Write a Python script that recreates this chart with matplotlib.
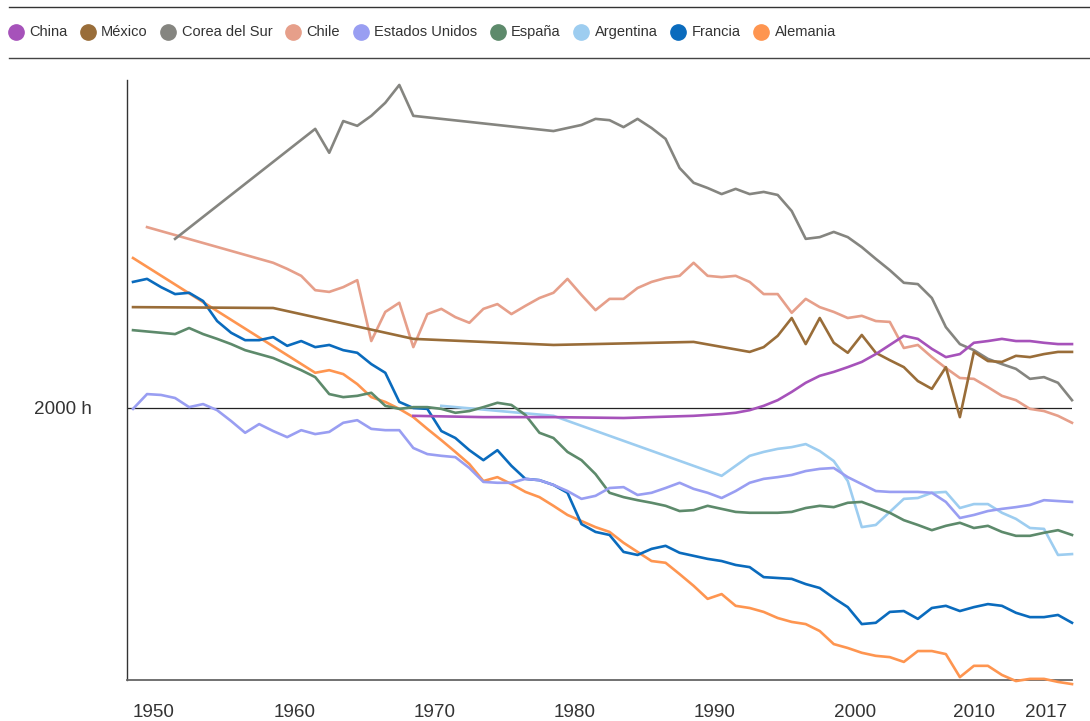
import matplotlib.pyplot as plt
from matplotlib.lines import Line2D
from matplotlib.transforms import ScaledTranslation

plt.rcParams['font.family'] = ['Liberation Sans', 'DejaVu Sans']

# annual working hours per worker
china_years = [1970, 1975, 1980, 1985, 1990, 1991, 1992, 1993, 1994, 1995, 1996, 1997, 1998, 1999,
               2000, 2001, 2002, 2003, 2004, 2005, 2006, 2007, 2008, 2009, 2010, 2011, 2012, 2013,
               2014, 2015, 2016, 2017]
china_hours = [1982, 1979, 1979, 1977, 1982, 1984, 1986, 1989, 1995, 2005, 2018, 2037, 2058, 2074,
               2083, 2094, 2106, 2124, 2145, 2166, 2159, 2136, 2117, 2124, 2150, 2154, 2159, 2154,
               2154, 2150, 2147, 2147]

mexico_years = [1950, 1960, 1970, 1980, 1990, 1994, 1995, 1996, 1997, 1998, 1999, 2000, 2001, 2002,
                2003, 2004, 2005, 2006, 2007, 2008, 2009, 2010, 2011, 2012, 2013, 2014, 2015, 2016,
                2017]
mexico_hours = [2232, 2230, 2159, 2145, 2152, 2129, 2140, 2166, 2207, 2147, 2207, 2150, 2127, 2168,
                2127, 2110, 2094, 2062, 2044, 2094, 1979, 2129, 2108, 2106, 2120, 2117, 2124, 2129,
                2129]

korea_years = [1953, 1963, 1964, 1965, 1966, 1967, 1968, 1969, 1970, 1980, 1981, 1982, 1983, 1984,
               1985, 1986, 1987, 1988, 1989, 1990, 1991, 1992, 1993, 1994, 1995, 1996, 1997, 1998,
               1999, 2000, 2001, 2002, 2003, 2004, 2005, 2006, 2007, 2008, 2009, 2010, 2011, 2012,
               2013, 2014, 2015, 2016, 2017]
korea_hours = [2389, 2642, 2587, 2660, 2649, 2672, 2702, 2743, 2672, 2637, 2644, 2651, 2665, 2662,
               2646, 2665, 2644, 2619, 2552, 2518, 2506, 2492, 2504, 2492, 2497, 2490, 2453, 2389,
               2393, 2405, 2393, 2370, 2343, 2317, 2288, 2285, 2253, 2186, 2147, 2133, 2113, 2101,
               2090, 2067, 2071, 2058, 2018]

chile_years = [1951, 1960, 1961, 1962, 1963, 1964, 1965, 1966, 1967, 1968, 1969, 1970, 1971, 1972,
               1973, 1974, 1975, 1976, 1977, 1978, 1979, 1980, 1981, 1982, 1983, 1984, 1985, 1986,
               1987, 1988, 1989, 1990, 1991, 1992, 1993, 1994, 1995, 1996, 1997, 1998, 1999, 2000,
               2001, 2002, 2003, 2004, 2005, 2006, 2007, 2008, 2009, 2010, 2011, 2012, 2013, 2014,
               2015, 2016, 2017]
chile_hours = [2416, 2334, 2320, 2304, 2271, 2267, 2278, 2294, 2154, 2221, 2242, 2140, 2216, 2228,
               2209, 2196, 2228, 2239, 2216, 2235, 2253, 2265, 2297, 2260, 2225, 2251, 2251, 2276,
               2290, 2299, 2304, 2334, 2304, 2301, 2304, 2290, 2262, 2262, 2219, 2251, 2232, 2221,
               2207, 2212, 2200, 2198, 2138, 2145, 2117, 2092, 2069, 2067, 2048, 2028, 2018, 1998,
               1993, 1982, 1966]

us_years = list(range(1950, 2018))
us_hours = [1998, 2032, 2030, 2023, 2002, 2009, 1995, 1970, 1943, 1963,
            1947, 1933, 1949, 1940, 1945, 1966, 1972, 1952, 1949, 1949,
            1908, 1894, 1890, 1887, 1862, 1830, 1828, 1828, 1837, 1834,
            1823, 1809, 1791, 1798, 1816, 1818, 1800, 1805, 1816, 1828,
            1814, 1805, 1793, 1809, 1828, 1837, 1841, 1846, 1855, 1860,
            1862, 1841, 1825, 1809, 1807, 1807, 1807, 1805, 1784, 1747,
            1754, 1763, 1768, 1772, 1777, 1788, 1786, 1784]

spain_years = [1950] + list(range(1953, 2018))
spain_hours = [2179, 2170, 2184, 2170, 2159, 2147, 2133, 2124,
               2115, 2101, 2087, 2071, 2032, 2025, 2028, 2035, 2005, 1998,
               2002, 2002, 1998, 1989, 1993, 2002, 2012, 2007, 1984, 1943,
               1931, 1899, 1880, 1848, 1805, 1795, 1788, 1782, 1775, 1763,
               1765, 1775, 1768, 1761, 1759, 1759, 1759, 1761, 1770, 1775,
               1772, 1782, 1784, 1772, 1759, 1742, 1731, 1719, 1729, 1736,
               1724, 1729, 1715, 1706, 1706, 1713, 1719, 1708]

argentina_years = [1972, 1980, 1992, 1993, 1994, 1995, 1996, 1997, 1998, 1999, 2000, 2001, 2002,
                   2003, 2004, 2005, 2006, 2007, 2008, 2009, 2010, 2011, 2012, 2013, 2014, 2015,
                   2016, 2017]
argentina_hours = [2005, 1982, 1844, 1867, 1890, 1899, 1906, 1910, 1917, 1901, 1878, 1832, 1726,
                   1731, 1761, 1791, 1793, 1805, 1807, 1770, 1779, 1779, 1759, 1745, 1724, 1722,
                   1662, 1664]

france_years = list(range(1950, 2018))
france_hours = [2290, 2297, 2278, 2262, 2265, 2246, 2200, 2173, 2156, 2156,
                2163, 2143, 2154, 2140, 2145, 2133, 2127, 2101, 2081, 2014,
                2000, 1998, 1947, 1931, 1903, 1880, 1903, 1867, 1837, 1834,
                1823, 1805, 1733, 1715, 1708, 1669, 1662, 1676, 1683, 1667,
                1660, 1653, 1648, 1639, 1634, 1611, 1609, 1607, 1595, 1586,
                1563, 1542, 1503, 1506, 1531, 1533, 1515, 1540, 1545, 1533,
                1542, 1549, 1545, 1529, 1519, 1519, 1524, 1506]

germany_years = [1950] + list(range(1963, 2018))
germany_hours = [2345, 2081, 2087, 2078, 2055, 2025, 2014, 1998,
                 1979, 1952, 1926, 1899, 1871, 1832, 1841, 1825, 1807, 1795,
                 1775, 1754, 1740, 1726, 1715, 1690, 1669, 1648, 1644, 1618,
                 1591, 1561, 1572, 1545, 1540, 1531, 1517, 1508, 1503, 1487,
                 1457, 1448, 1437, 1430, 1427, 1416, 1441, 1441, 1434, 1381,
                 1407, 1407, 1386, 1372, 1377, 1377, 1370, 1365]

names = ["China", "México", "Corea del Sur", "Chile", "Estados Unidos", "España",
         "Argentina", "Francia", "Alemania"]
colors = ["#a652ba", "#996d39", "#858580", "#e69f8a", "#999ef2", "#5d8a6b",
          "#9dcdf0", "#0a6bbd", "#fe9550"]
series = [(china_years, china_hours), (mexico_years, mexico_hours), (korea_years, korea_hours),
          (chile_years, chile_hours), (us_years, us_hours), (spain_years, spain_hours),
          (argentina_years, argentina_hours), (france_years, france_hours),
          (germany_years, germany_hours)]

tick_years = [1950, 1960, 1970, 1980, 1990, 2000, 2010, 2017]

W, H = 1090, 721
fig = plt.figure(figsize=(W / 100, H / 100), dpi=100)
ax = fig.add_axes([127 / W, 1 - 680 / H, (1072 - 127) / W, 600 / H])

for i in range(len(series) - 1, -1, -1):
    yrs, hrs = series[i]
    ax.plot(yrs, hrs, color=colors[i], lw=1.9, clip_on=False, zorder=3)

ax.axhline(2000, color="#222222", lw=0.9, zorder=1)

ax.set_xlim(1949.57, 2017)
ax.set_ylim(1374.4, 2754.4)

ax.spines["top"].set_visible(False)
ax.spines["right"].set_visible(False)
ax.spines["left"].set_color("#333333")
ax.spines["left"].set_linewidth(1.0)
ax.spines["bottom"].set_color("#666666")
ax.spines["bottom"].set_linewidth(1.3)

ax.set_yticks([2000], ["2000 h"])
ax.set_xticks(tick_years, [str(y) for y in tick_years])
ax.tick_params(axis="y", length=0, pad=25, labelsize=13.6, labelcolor="#333333")
ax.tick_params(axis="x", length=0, pad=17, labelsize=13.6, labelcolor="#333333")
for lab in ax.get_xticklabels():
    if lab.get_text() == "2010":
        lab.set_horizontalalignment("center")
    elif lab.get_text() == "2017":
        lab.set_horizontalalignment("right")
        lab.set_transform(lab.get_transform() + ScaledTranslation(-5 / 100, 0, fig.dpi_scale_trans))
    else:
        lab.set_horizontalalignment("left")

# legend strip at the top
fig.add_artist(Line2D([9 / W, 1], [1 - 7 / H] * 2, transform=fig.transFigure, color="#333333", lw=1))
fig.add_artist(Line2D([9 / W, 1], [1 - 58 / H] * 2, transform=fig.transFigure, color="#444444", lw=1))

renderer = fig.canvas.get_renderer()
x = 15.5
y_leg = 1 - 32 / H
for name, col in zip(names, colors):
    fig.add_artist(Line2D([x / W], [y_leg], transform=fig.transFigure, marker="o",
                          markersize=11, color=col, linestyle="none"))
    t = fig.text((x + 13.5) / W, y_leg, name, fontsize=10.5, color="#333333",
                 va="center", ha="left")
    bb = t.get_window_extent(renderer)
    x = bb.x1 + 20.5

fig.savefig("out.png", dpi=100)
